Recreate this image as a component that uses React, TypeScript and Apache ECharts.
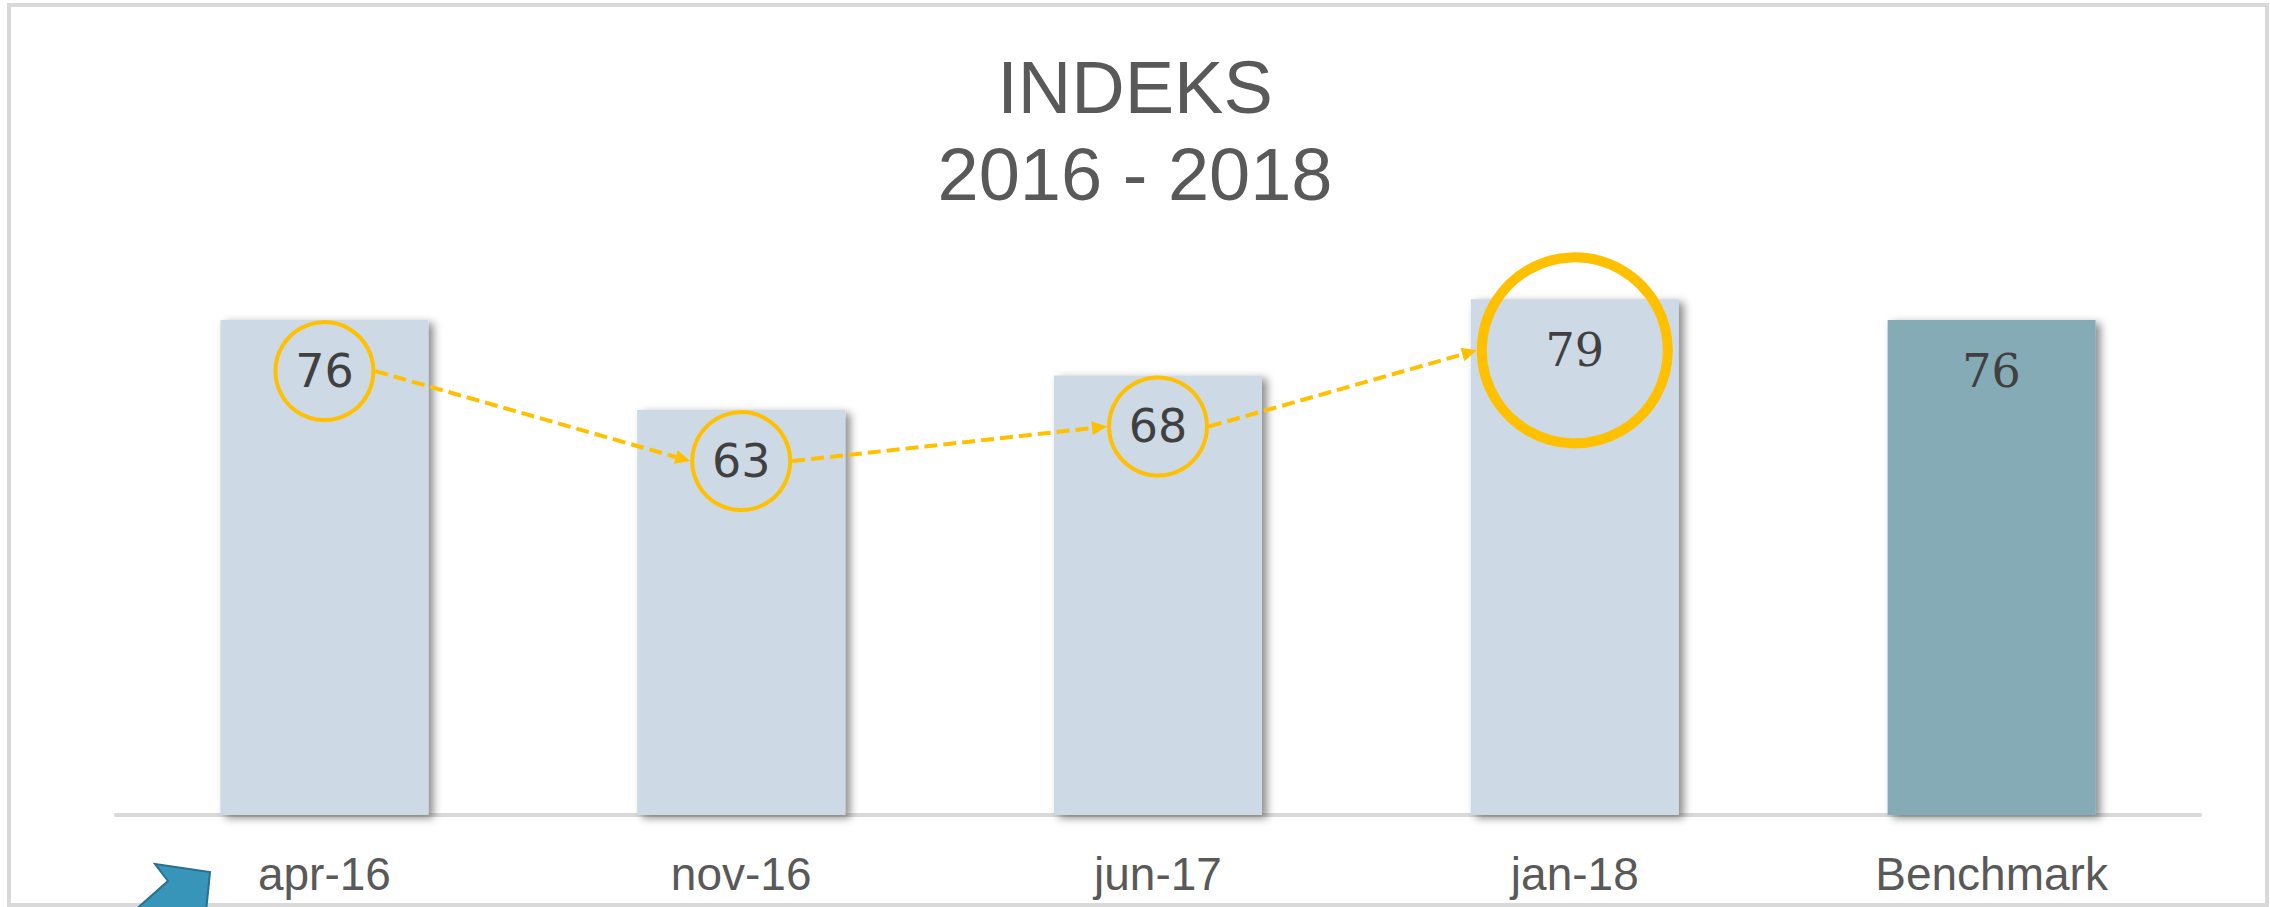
import React, { useEffect, useRef } from "react";
import * as echarts from "echarts";

const categories = ["apr-16", "nov-16", "jun-17", "jan-18", "Benchmark"];
const values = [76, 63, 68, 79, 76];
const circledCount = 4; // first four categories are circled and linked by arrows
const highlightIndex = 3; // jan-18 gets the large circle
const serifLabelIdx = [3, 4];
const titleLines = ["INDEKS", "2016 - 2018"];
const yMin = 4.5;
const yMax = 100;

const LIGHT = "#CDD9E5";
const BENCH = "#85ABB6";
const GOLD = "#FFC000";
const LABEL_OFFSET = 51;

export default function App() {
  const ref = useRef<HTMLDivElement>(null);
  useEffect(() => {
    if (!ref.current) return;
    const chart = echarts.init(ref.current, null, { renderer: "svg" });

    const circleR = (i: number) => (i === highlightIndex ? 93 : 49);
    const circleW = (i: number) => (i === highlightIndex ? 10 : 4);

    const barData = values.map((v, i) => ({
      value: v,
      itemStyle: { color: categories[i] === "Benchmark" ? BENCH : LIGHT },
      label: {
        fontFamily: serifLabelIdx.includes(i) ? "DejaVu Serif" : "DejaVu Sans",
      },
    }));

    const annData = values.slice(0, circledCount).map((v, i) => [i, v]);

    chart.setOption({
      animation: false,
      backgroundColor: "#ffffff",
      title: {
        text: titleLines.join("\n"),
        left: "center",
        top: 44,
        padding: 0,
        textStyle: {
          fontFamily: "Liberation Sans",
          fontSize: 74,
          lineHeight: 87,
          fontWeight: "normal",
          color: "#595959",
        },
      },
      grid: { left: 116, right: 70, top: 154, bottom: 92 },
      xAxis: {
        type: "category",
        data: categories,
        axisLine: { lineStyle: { color: "#D9D9D9", width: 4 } },
        axisTick: { show: false },
        axisLabel: {
          fontFamily: "Liberation Sans",
          fontSize: 46,
          color: "#595959",
          margin: 36,
        },
      },
      yAxis: {
        type: "value",
        min: yMin,
        max: yMax,
        show: false,
        splitLine: { show: false },
      },
      series: [
        {
          type: "bar",
          data: barData,
          barWidth: 208,
          itemStyle: {
            shadowColor: "rgba(0,0,0,0.45)",
            shadowBlur: 8,
            shadowOffsetX: 5,
            shadowOffsetY: 3,
          },
          label: {
            show: true,
            position: ["50%", LABEL_OFFSET],
            align: "center",
            verticalAlign: "middle",
            fontSize: 46,
            color: "#404040",
          },
          z: 1,
        },
        {
          type: "custom",
          coordinateSystem: "cartesian2d",
          data: annData,
          z: 5,
          silent: true,
          renderItem: (params: any, api: any) => {
            const i = api.value(0);
            const v = api.value(1);
            const p = api.coord([i, v]);
            const cx = p[0];
            const cy = p[1] + LABEL_OFFSET;
            const children: any[] = [
              {
                type: "circle",
                shape: { cx, cy, r: circleR(i) },
                style: { fill: "none", stroke: GOLD, lineWidth: circleW(i) },
              },
            ];
            if (i > 0) {
              const q = api.coord([i - 1, values[i - 1]]);
              const sx = q[0] + circleR(i - 1) + circleW(i - 1) / 2;
              const sy = q[1] + LABEL_OFFSET;
              const ex = cx - circleR(i) - circleW(i) / 2;
              const ey = cy;
              const dx = ex - sx;
              const dy = ey - sy;
              const len = Math.sqrt(dx * dx + dy * dy);
              const ux = dx / len;
              const uy = dy / len;
              const headLen = 15;
              const headW = 7;
              const bx = ex - ux * headLen;
              const by = ey - uy * headLen;
              children.push({
                type: "line",
                shape: { x1: sx, y1: sy, x2: bx, y2: by },
                style: { stroke: GOLD, lineWidth: 4, lineDash: [13, 6] },
              });
              children.push({
                type: "polygon",
                shape: {
                  points: [
                    [ex, ey],
                    [bx - uy * headW, by + ux * headW],
                    [bx + uy * headW, by - ux * headW],
                  ],
                },
                style: { fill: GOLD },
              });
            }
            return { type: "group", children };
          },
        },
      ],
      graphic: [
        {
          type: "rect",
          shape: { x: 9, y: 5, width: 2258, height: 900 },
          style: { fill: "none", stroke: "#D9D9D9", lineWidth: 4 },
          z: 100,
        },
        {
          type: "polygon",
          shape: {
            points: [
              [155, 864],
              [210, 872],
              [206, 912],
              [133, 912],
              [168, 881],
            ],
          },
          style: { fill: "#3695B9", stroke: "#2A6F8E", lineWidth: 2 },
          z: 100,
        },
      ],
    });

    return () => chart.dispose();
  }, []);

  return (
    <div
      ref={ref}
      style={{ position: "fixed", left: 0, top: 0, width: 2270, height: 907 }}
    />
  );
}
